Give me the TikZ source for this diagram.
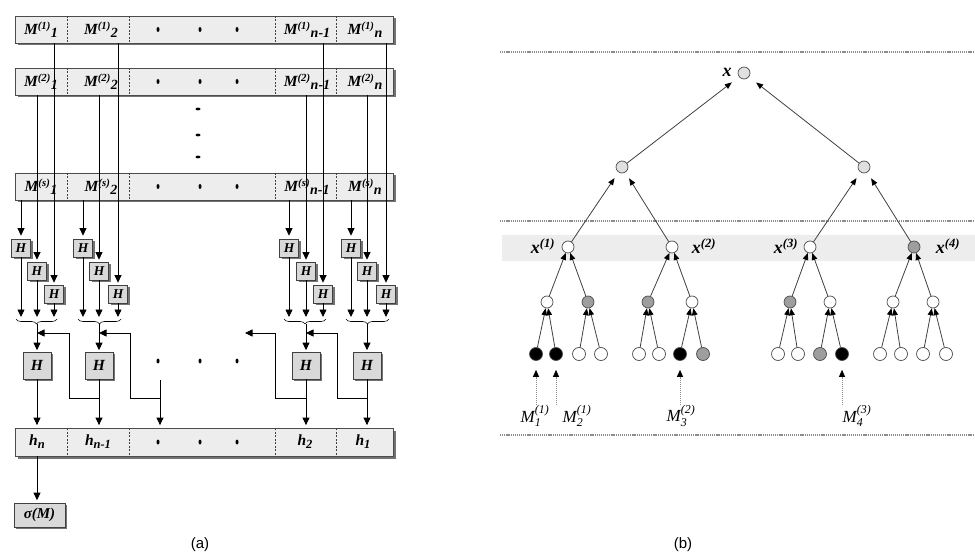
\documentclass[tikz,border=0pt]{standalone}
\usepackage{fontspec}
\usepackage{amsmath}
\setmainfont{Liberation Serif}
\newfontfamily\capfont{Liberation Sans}
\usetikzlibrary{arrows.meta,shadows,decorations.pathreplacing}

% block labels of part (a)
\newcommand{\Mrow}[2]{M\textsuperscript{(#1)}\raisebox{-2.5pt}{\fontsize{14}{14}\selectfont#2}}
\newcommand{\hsub}[1]{h\raisebox{-3pt}{\fontsize{12.5}{12.5}\selectfont#1}}
% leaf labels of part (b)
\newcommand{\Mleaf}[2]{$\textit{M}^{\textit{(#1)}}_{\textit{#2}}$}

\tikzset{
  boxshadow/.style={drop shadow={shadow xshift=2.5pt,shadow yshift=-2.5pt,fill=black!55,opacity=1}},
  rowbox/.style={rectangle,draw=black!70,fill=black!7,line width=0.8pt,
    minimum width=378pt,minimum height=27pt,inner sep=0pt,boxshadow},
  cellsep/.style={draw=black!75,line width=0.6pt,dash pattern=on 2pt off 1.5pt},
  celltext/.style={font=\fontsize{15.5}{15.5}\selectfont\bfseries\itshape,inner sep=0pt},
  hsmall/.style={rectangle,draw=black!75,fill=black!15,line width=0.7pt,
    minimum width=19pt,minimum height=18pt,inner sep=0pt,
    font=\fontsize{13.5}{13.5}\selectfont\bfseries\itshape,
    drop shadow={shadow xshift=2pt,shadow yshift=-2pt,fill=black!55,opacity=1}},
  hbig/.style={hsmall,minimum width=28pt,minimum height=27pt,
    font=\fontsize{15.5}{15.5}\selectfont\bfseries\itshape},
  arr/.style={-{Triangle[width=7pt,length=7.5pt]},line width=0.8pt,black},
  bracepath/.style={decorate,decoration={brace,amplitude=5pt,mirror},line width=0.6pt,black},
  % tree of part (b)
  tn/.style={circle,draw=black!70,line width=0.7pt,minimum size=12pt,inner sep=0pt,fill=white},
  tl/.style={tn,minimum size=13pt},
  fw/.style={fill=white}, fl/.style={fill=black!12}, fg/.style={fill=black!38}, fb/.style={fill=black},
  tedge/.style={draw=black!75,line width=0.8pt,-{Triangle[width=5.5pt,length=7pt,color=black]}},
  mlink/.style={draw=black!45,line width=0.8pt,dash pattern=on 1pt off 1pt,
    -{Triangle[width=6pt,length=7pt,color=black]}},
  sepline/.style={draw=black!45,line width=1.8pt,dash pattern=on 1.2pt off 0.9pt},
  xlab/.style={font=\fontsize{18}{18}\selectfont\bfseries\itshape,inner sep=0pt},
  mlab/.style={font=\fontsize{17}{17}\selectfont,inner sep=0pt},
  subcap/.style={font=\capfont\fontsize{15}{15}\selectfont,inner sep=0pt}
}

\begin{document}
\begin{tikzpicture}[x=1pt,y=-1pt]
\useasboundingbox (0,0) rectangle (975,556);

% ---------------- part (a) ----------------
\node[rowbox] (r1) at (204,29.5) {};
\node[rowbox] (r2) at (204,81.5) {};
\node[rowbox] (rs) at (204,186.5) {};
\node[rowbox,minimum height=28pt] (hr) at (204,442) {};

\foreach \xx in {67,129,275,336} {
  \draw[cellsep] (\xx,16) -- (\xx,43);
  \draw[cellsep] (\xx,68) -- (\xx,95);
  \draw[cellsep] (\xx,173) -- (\xx,200);
  \draw[cellsep] (\xx,428) -- (\xx,456);
}
\foreach \yy in {29.5,81.5,186.5,442,361}
  \foreach \xx in {158,200,237}
    \fill (\xx,\yy) ellipse (1.5pt and 2.5pt);
\foreach \yy in {109,135,157}
  \fill (198,\yy) ellipse (2.5pt and 1.4pt);

\foreach \rn/\sp/\yy in {r1/1/29.5, r2/2/81.5, rs/s/186.5} {
  \node[celltext] (\rn-a) at (41,\yy)  {\Mrow{\sp}{1}};
  \node[celltext] (\rn-b) at (101,\yy) {\Mrow{\sp}{2}};
  \node[celltext] (\rn-c) at (307,\yy) {\Mrow{\sp}{n-1}};
  \node[celltext] (\rn-d) at (365,\yy) {\Mrow{\sp}{n}};
}
\node[celltext] (hn)  at (37,442)  {\hsub{n}};
\node[celltext] (hn1) at (98,442)  {\hsub{n-1}};
\node[celltext] (h2)  at (305,442) {\hsub{2}};
\node[celltext] (h1)  at (363,442) {\hsub{1}};

% compression groups: three small H blocks, a brace and a big H block
\foreach \g/\a/\b/\c in {1/21/37/54, 2/83/99/118, 3/289/306/323, 4/351/367/386} {
  \node[hsmall] (ha\g) at (\a,248) {H};
  \node[hsmall] (hb\g) at (\b,271) {H};
  \node[hsmall] (hc\g) at (\c,294) {H};
  \coordinate (oa\g) at (\a,317);
  \coordinate (ob\g) at (\b,317);
  \coordinate (oc\g) at (\c,317);
  \coordinate (bl\g) at (\a-5,319);
  \coordinate (brr\g) at (\c+3,319);
  \coordinate (bt\g) at (\b,324);
  \node[hbig] (H\g) at (\b,365.5) {H};
}
\foreach \g in {1,2,3,4} {
  \draw[arr,shorten >=3pt] (rs.south -| ha\g) -- (ha\g.north);
  \draw[arr,shorten >=2pt] (r2.south -| hb\g) -- (hb\g.north);
  \draw[arr,shorten >=2pt] (r1.south -| hc\g) -- (hc\g.north);
  \draw[arr] (ha\g.south) -- (oa\g);
  \draw[arr] (hb\g.south) -- (ob\g);
  \draw[arr] (hc\g.south) -- (oc\g);
  \draw[bracepath] (bl\g) -- (brr\g);
  \draw[arr,shorten >=1.5pt] (bt\g) -- (H\g.north);
  \draw[arr,shorten >=2.5pt] (H\g.south) -- (H\g.south |- hr.north);
}

% middle column of the chain
\coordinate (dc) at (160,380);
\draw[arr,shorten >=2.5pt] (dc) -- (dc |- hr.north);

% chaining values fed back to the neighbouring column
\coordinate (j2) at (99,398);
\coordinate (jd) at (160,398);
\coordinate (j3) at (306,398);
\coordinate (j4) at (367,398);
\coordinate (t1) at (37,333);
\coordinate (t2) at (99,333);
\coordinate (td) at (245,333);
\coordinate (t3) at (306,333);
\draw[arr] (j2) -- (69,398) -- (69,333) -- (t1);
\draw[arr] (jd) -- (130,398) -- (130,333) -- (t2);
\draw[arr] (j3) -- (275,398) -- (275,333) -- (td);
\draw[arr] (j4) -- (337,398) -- (337,333) -- (t3);

\node[hsmall,minimum width=51pt,minimum height=24pt,font=\fontsize{15}{15}\selectfont\bfseries\itshape]
  (sig) at (39.5,515) {σ(M)};
\draw[arr,shorten >=2.5pt] (hr.south -| H1.south) -- (sig.north -| H1.south);

\node[subcap] (capa) at (200,545) {(a)};

% ---------------- part (b) ----------------
\fill[black!7] (502,235) rectangle (975,261);
\draw[sepline] (500,52) -- (975,52);
\draw[sepline] (500,221) -- (975,221);
\draw[sepline] (500,435) -- (975,435);

\node[tn,fl] (root) at (744,73) {};
\node[tn,fl] (n1) at (622,167) {};
\node[tn,fl] (n2) at (864,167) {};
\node[tn,fw] (x1) at (568,247) {};
\node[tn,fw] (x2) at (672,247) {};
\node[tn,fw] (x3) at (810,247) {};
\node[tn,fg] (x4) at (914,247) {};
\foreach \nm/\xx/\ff in {p1/547/fw, p2/588/fg, p3/648/fg, p4/692/fw,
                         p5/790/fg, p6/830/fw, p7/893/fw, p8/933/fw}
  \node[tn,\ff] (\nm) at (\xx,302) {};
\foreach \nm/\xx/\ff in {l1/536/fb, l2/556/fb, l3/579/fw, l4/601/fw,
                         l5/639/fw, l6/659/fw, l7/680/fb, l8/703/fg,
                         l9/778/fw, l10/798/fw, l11/820/fg, l12/842/fb,
                         l13/880/fw, l14/901/fw, l15/923/fw, l16/946/fw}
  \node[tl,\ff] (\nm) at (\xx,354) {};

\draw[tedge,shorten >=9pt] (n1) -- (root);
\draw[tedge,shorten >=9pt] (n2) -- (root);
\foreach \c/\p in {x1/n1, x2/n1, x3/n2, x4/n2}
  \draw[tedge,shorten >=7pt] (\c) -- (\p);
\foreach \c/\p in {p1/x1, p2/x1, p3/x2, p4/x2, p5/x3, p6/x3, p7/x4, p8/x4,
                   l1/p1, l2/p1, l3/p2, l4/p2, l5/p3, l6/p3, l7/p4, l8/p4,
                   l9/p5, l10/p5, l11/p6, l12/p6, l13/p7, l14/p7, l15/p8, l16/p8}
  \draw[tedge] (\c) -- (\p);

\node[xlab] (xr)  at (727,72)  {x};
\node[xlab] (xl1) at (543,246) {x\textsuperscript{(1)}};
\node[xlab] (xl2) at (704,246) {x\textsuperscript{(2)}};
\node[xlab] (xl3) at (786,246) {x\textsuperscript{(3)}};
\node[xlab] (xl4) at (948,246) {x\textsuperscript{(4)}};

\node[mlab] (ml1) at (535,416) {\Mleaf{1}{1}};
\node[mlab] (ml2) at (577,416) {\Mleaf{1}{2}};
\node[mlab] (ml3) at (681,416) {\Mleaf{2}{3}};
\node[mlab] (ml4) at (857,416) {\Mleaf{3}{4}};
\draw[mlink,shorten >=9pt] (l1.south |- ml1.north) -- (l1.south);
\draw[mlink,shorten >=9pt] (l2.south |- ml2.north) -- (l2.south);
\draw[mlink,shorten >=9pt] (l7.south |- ml3.north) -- (l7.south);
\draw[mlink,shorten >=9pt] (l12.south |- ml4.north) -- (l12.south);

\node[subcap] (capb) at (683,545) {(b)};
\end{tikzpicture}
\end{document}
